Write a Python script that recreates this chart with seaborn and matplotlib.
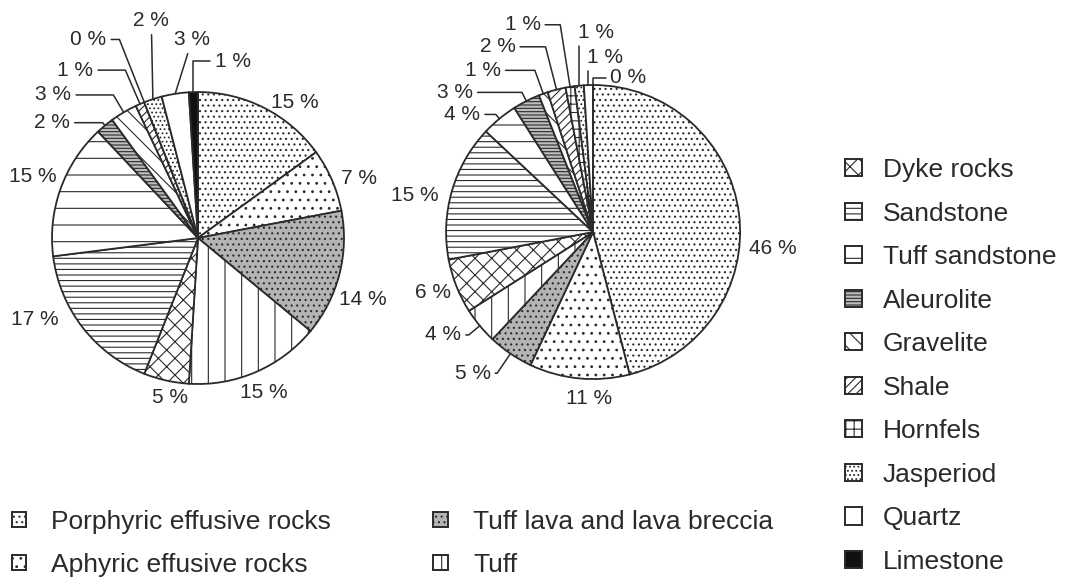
import matplotlib
matplotlib.use("Agg")
import matplotlib.pyplot as plt
from matplotlib.patches import Patch
import numpy as np
import seaborn as sns

# rock types, clockwise from 12 o'clock
rocks = ["Porphyric effusive rocks", "Aphyric effusive rocks", "Tuff lava and lava breccia", "Tuff",
         "Dyke rocks", "Sandstone", "Tuff sandstone", "Aleurolite", "Gravelite", "Shale",
         "Hornfels", "Jasperiod", "Quartz", "Limestone"]
share_left = [15, 7, 14, 15, 5, 17, 15, 2, 3, 1, 0, 2, 3, 1]
share_right = [46, 11, 5, 4, 6, 15, 4, 3, 1, 2, 1, 1, 1, 0]

# fill + hatch for each rock type (black & white print style)
faces = ["white", "white", "#b4b4b4", "white", "white", "white", "white",
         "#bdbdbd", "white", "white", "white", "white", "white", "#111111"]
hatches = ["...", "..", "...", "|", "xx", "---", "-", "-----", "\\\\", "////", "++", "....", "", ""]

sns.set_theme(style="white")
plt.rcParams["font.family"] = ["Liberation Sans", "DejaVu Sans"]
plt.rcParams["hatch.linewidth"] = 0.8
INK = "#2a2a2a"


def draw_pie(ax, values, spots):
    wedges, _ = ax.pie(values, startangle=90, counterclock=False, colors=faces,
                       wedgeprops=dict(edgecolor=INK, linewidth=1.3))
    for w, h in zip(wedges, hatches):
        w.set_hatch(h)
    for i, w in enumerate(wedges):
        mid = (w.theta1 + w.theta2) / 2
        edge = (np.cos(np.deg2rad(mid)), np.sin(np.deg2rad(mid)))
        txt = f"{values[i]} %"
        x, y, kind = spots[i]
        if kind == "none":
            ax.text(x, y, txt, ha="center", va="center", fontsize=15, color=INK)
            continue
        if kind == "angle":
            conn = f"angle,angleA=0,angleB={mid:.1f},rad=0"
        elif kind == "down":
            conn = "angle,angleA=0,angleB=90,rad=0"
        else:
            conn = "arc3"
        ax.annotate(txt, xy=edge, xytext=(x, y), ha="center", va="center",
                    fontsize=15, color=INK,
                    arrowprops=dict(arrowstyle="-", color=INK, lw=1.1,
                                    shrinkA=1, shrinkB=0, connectionstyle=conn))
    return wedges


fig = plt.figure(figsize=(10.78, 5.81), dpi=100)

# label spots (pie radius = 1); thin slices get leader lines
spots_left = {0: (0.66, 0.93, "none"), 1: (1.10, 0.41, "none"), 2: (1.13, -0.42, "none"),
              3: (0.45, -1.06, "none"), 4: (-0.19, -1.09, "none"), 5: (-1.12, -0.56, "none"),
              6: (-1.13, 0.42, "none"),
              7: (-1.0, 0.79, "angle"), 8: (-0.99, 0.98, "angle"), 9: (-0.84, 1.15, "angle"),
              10: (-0.75, 1.36, "angle"), 11: (-0.32, 1.49, "line"), 12: (-0.04, 1.36, "line"),
              13: (0.24, 1.21, "down")}
spots_right = {0: (1.22, -0.11, "none"), 1: (-0.03, -1.13, "none"),
               2: (-0.82, -0.96, "angle"), 3: (-1.02, -0.70, "angle"),
               4: (-1.09, -0.41, "none"), 5: (-1.21, 0.25, "none"), 6: (-0.89, 0.80, "angle"),
               7: (-0.94, 0.95, "angle"), 8: (-0.75, 1.10, "angle"), 9: (-0.65, 1.26, "angle"),
               10: (-0.48, 1.41, "angle"), 11: (0.02, 1.36, "down"), 12: (0.08, 1.19, "down"),
               13: (0.24, 1.05, "down")}

ax1 = fig.add_axes([0.0, 0.277, 0.3618, 0.7229])
draw_pie(ax1, share_left, spots_left)
ax1.set_xlim(-1.356, 1.315)
ax1.set_ylim(-1.247, 1.63)

ax2 = fig.add_axes([0.3711, 0.277, 0.3711, 0.7229])
draw_pie(ax2, share_right, spots_right)
ax2.set_xlim(-1.313, 1.408)
ax2.set_ylim(-1.279, 1.578)

handles = [Patch(facecolor=f, hatch=h, edgecolor=INK, linewidth=1.4) for f, h in zip(faces, hatches)]
leg_kw = dict(frameon=False, fontsize=19, labelspacing=0.74, borderpad=0, borderaxespad=0,
              loc="upper left", labelcolor=INK)
fig.legend(handles[0:2], rocks[0:2], bbox_to_anchor=(0.011, 0.123),
           handlelength=0.55, handleheight=0.5, handletextpad=0.95, **leg_kw)
fig.legend(handles[2:4], rocks[2:4], bbox_to_anchor=(0.402, 0.123),
           handlelength=0.55, handleheight=0.5, handletextpad=0.95, **leg_kw)
fig.legend(handles[4:], rocks[4:], bbox_to_anchor=(0.784, 0.728),
           handlelength=0.62, handleheight=0.62, handletextpad=0.8, **leg_kw)

fig.savefig("out.png", dpi=100, facecolor="white")
